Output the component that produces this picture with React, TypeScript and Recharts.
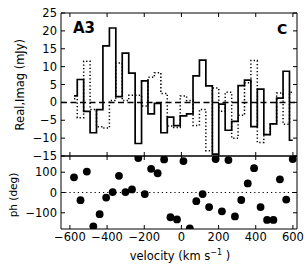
import React from 'react';
import { LineChart, Line, XAxis, YAxis, ReferenceLine, ScatterChart, Scatter } from 'recharts';

const velocity = [-578, -543, -509, -474, -440, -405, -370, -336, -301, -266, -232, -197, -163, -128, -93, -59, -24, 11, 45, 80, 114, 149, 184, 218, 253, 288, 322, 357, 391, 426, 461, 495, 530, 564, 599];
const realPart = [1.8, 6.4, -2.5, -8.5, -2.0, 15.8, 20.8, 1.6, 13.8, 8.2, -11.5, 6.0, -3.2, -0.3, -8.5, -4.1, -6.5, -3.8, -3.2, 7.4, 11.8, 4.6, -14.5, -0.5, -7.8, -5.3, 4.7, 6.2, -6.8, 3.7, -9.0, -6.0, 1.2, 8.7, -10.6];
const imagPart = [1.0, -4.3, 11.5, -2.0, -6.8, -7.2, 0.5, 11.0, 0.5, 2.0, 2.0, -1.0, 7.0, 8.3, 2.5, -6.6, -7.0, 1.8, 0.5, -6.5, -2.0, -13.5, 4.0, -2.5, 2.8, -10.0, -3.6, 5.5, 11.7, -11.2, -9.0, -6.0, 2.6, -6.1, 2.8];
const phase = [75, -38, 103, -167, -107, -25, 2, 82, 2, 15, 170, -8, 117, 95, 163, -122, -133, 155, -177, -43, -8, -72, 165, -93, 160, -118, -37, 45, 120, -72, -135, -135, 65, -35, 165];

const velocityTicks = [-600, -400, -200, 0, 200, 400, 600];
const fluxTicks = [-15, -10, -5, 0, 5, 10, 15, 20, 25];
const phaseTicks = [-100, 0, 100];
const xDomain: [number, number] = [-648, 622];
const fluxDomain: [number, number] = [-15, 25];
const phaseDomain: [number, number] = [-180, 180];

const specRows = velocity.map((v, i) => ({ v, re: realPart[i], im: imagPart[i] }));
const phaseRows = velocity.map((v, i) => ({ v, ph: phase[i] }));

const FONT = "'DejaVu Sans', sans-serif";
const fmt = (v: number) => (v < 0 ? `\u2212${Math.abs(v)}` : `${v}`);
const tickText = { fontFamily: FONT, fontSize: 11.5, fill: '#000' };
const noLabel = () => <g />;
const axisCommon = {
  axisLine: { stroke: '#000', strokeWidth: 1 },
  tickLine: { stroke: '#000', strokeWidth: 1 },
  tickSize: -4,
  interval: 0 as const,
  allowDataOverflow: true,
};

const Dot = (props: any) => <circle cx={props.cx} cy={props.cy} r={3.9} fill="#000" />;

export default function App() {
  return (
    <div style={{ position: 'absolute', left: 0, top: 0, width: 307, height: 277, background: '#fff' }}>
      <div style={{ position: 'absolute', left: 0, top: 0 }}>
        <LineChart width={307} height={170} data={specRows} margin={{ top: 12, right: 9, bottom: 13, left: 60 }}>
          <XAxis xAxisId="b" type="number" dataKey="v" domain={xDomain} ticks={velocityTicks} height={1} tick={noLabel} {...axisCommon} />
          <XAxis xAxisId="t" orientation="top" type="number" dataKey="v" domain={xDomain} ticks={velocityTicks} height={1} tick={noLabel} {...axisCommon} />
          <YAxis yAxisId="l" type="number" domain={fluxDomain} ticks={fluxTicks} width={1} tickFormatter={fmt} tick={tickText} tickMargin={8} {...axisCommon} />
          <YAxis yAxisId="r" orientation="right" type="number" domain={fluxDomain} ticks={fluxTicks} width={1} tick={noLabel} {...axisCommon} />
          <ReferenceLine xAxisId="b" yAxisId="l" y={0} stroke="#000" strokeWidth={1.5} strokeDasharray="6 3.5" />
          <Line xAxisId="b" yAxisId="l" type="step" dataKey="re" stroke="#000" strokeWidth={1.7} dot={false} isAnimationActive={false} />
          <Line xAxisId="b" yAxisId="l" type="step" dataKey="im" stroke="#000" strokeWidth={1.5} strokeDasharray="1.3 2.2" dot={false} isAnimationActive={false} />
        </LineChart>
      </div>
      <div style={{ position: 'absolute', left: 0, top: 0 }}>
        <ScatterChart width={307} height={277} margin={{ top: 155, right: 9, bottom: 47, left: 60 }}>
          <XAxis xAxisId="b" type="number" dataKey="v" domain={xDomain} ticks={velocityTicks} height={1} tickFormatter={fmt} tick={tickText} tickMargin={8} {...axisCommon} />
          <XAxis xAxisId="t" orientation="top" type="number" dataKey="v" domain={xDomain} ticks={velocityTicks} height={1} tick={noLabel} {...axisCommon} />
          <YAxis yAxisId="l" type="number" dataKey="ph" domain={phaseDomain} ticks={phaseTicks} width={1} tickFormatter={fmt} tick={tickText} tickMargin={8} {...axisCommon} />
          <YAxis yAxisId="r" orientation="right" type="number" dataKey="ph" domain={phaseDomain} ticks={phaseTicks} width={1} tick={noLabel} {...axisCommon} />
          <ReferenceLine xAxisId="b" yAxisId="l" y={0} stroke="#000" strokeWidth={1.2} strokeDasharray="1.2 3" />
          <Scatter xAxisId="b" yAxisId="l" data={phaseRows} fill="#000" shape={Dot} isAnimationActive={false} />
        </ScatterChart>
      </div>
      <svg width={307} height={277} style={{ position: 'absolute', left: 0, top: 0, pointerEvents: 'none' }}>
        <text x={73} y={33} fontFamily={FONT} fontWeight="bold" fontSize={15}>A3</text>
        <text x={277} y={34} fontFamily={FONT} fontWeight="bold" fontSize={14}>C</text>
        <text transform="translate(24,84.7) rotate(-90)" textAnchor="middle" fontFamily={FONT} fontSize={11.5}>Real,Imag (mJy)</text>
        <text transform="translate(16.5,195) rotate(-90)" textAnchor="middle" fontFamily={FONT} fontSize={10.5}>ph (deg)</text>
        <text x={180} y={260} textAnchor="middle" fontFamily={FONT} fontSize={11.5}>
          velocity (km s<tspan dy={-5} fontSize={8}>{'\u22121'}</tspan><tspan dy={5}> )</tspan>
        </text>
      </svg>
    </div>
  );
}
